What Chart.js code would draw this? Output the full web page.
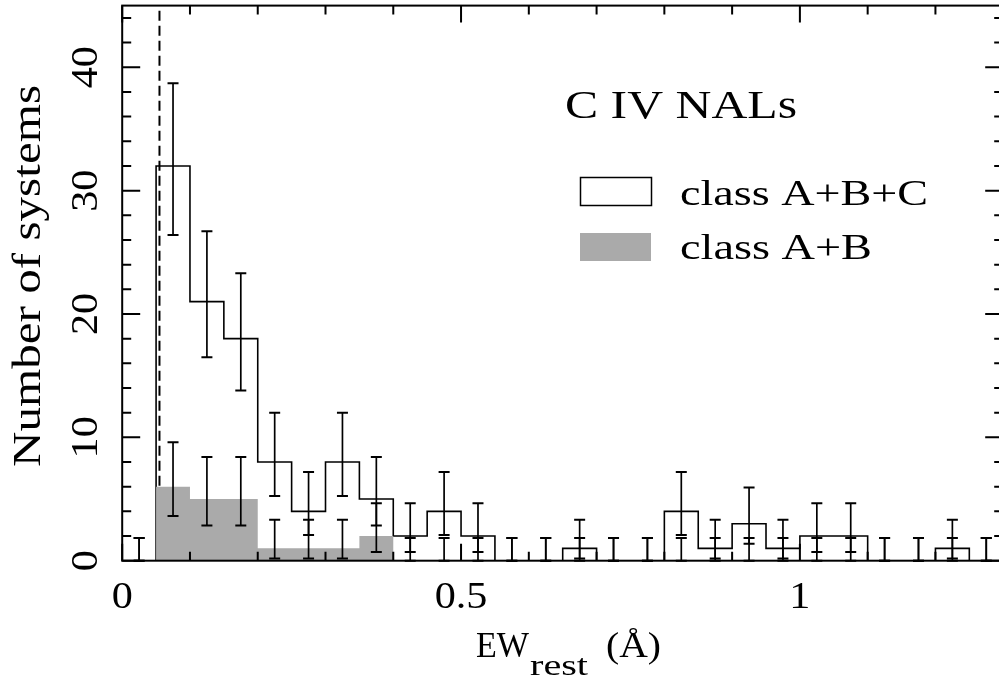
<!DOCTYPE html>
<html>
<head>
<meta charset="utf-8">
<script src="https://cdn.jsdelivr.net/npm/chart.js@4.4.1/dist/chart.umd.min.js"></script>
<style>
  html, body { margin: 0; padding: 0; overflow: hidden; background: #fff; }
  canvas { display: block; }
</style>
</head>
<body>
<canvas id="c" width="1006" height="683"></canvas>
<script>
// Rest-frame equivalent width bins: left edges in Å, each bin 0.05 Å wide
const binLefts = [0.00, 0.05, 0.10, 0.15, 0.20, 0.25, 0.30, 0.35, 0.40, 0.45,
                  0.50, 0.55, 0.60, 0.65, 0.70, 0.75, 0.80, 0.85, 0.90, 0.95,
                  1.00, 1.05, 1.10, 1.15, 1.20, 1.25];
const binWidth = 0.05;

// Number of systems per bin
const countsABC = [0, 32, 21, 18, 8, 4, 8, 5, 2, 4, 2, 0, 0, 1, 0, 0, 4, 1, 3, 1, 2, 2, 0, 0, 1, 0];
const countsAB  = [0, 6, 5, 5, 1, 1, 1, 2, 0, 0, 0, 0, 0, 0, 0, 0, 0, 0, 0, 0, 0, 0, 0, 0, 0, 0];

// 1-sigma Poisson confidence limits for each bin
const errHiABC = [1.84, 38.7, 26.7, 23.3, 12.0, 7.2, 12.0, 8.4, 4.66, 7.2, 4.66, 1.84, 1.84, 3.32, 1.84, 1.84, 7.2, 3.32, 5.94, 3.32, 4.66, 4.66, 1.84, 1.84, 3.32, 1.84];
const errLoABC = [0, 26.4, 16.5, 13.8, 5.24, 2.09, 5.24, 2.85, 0.71, 2.09, 0.71, 0, 0, 0.17, 0, 0, 2.09, 0.17, 1.37, 0.17, 0.71, 0.71, 0, 0, 0.17, 0];
const errHiAB  = [1.84, 9.6, 8.4, 8.4, 3.32, 3.32, 3.32, 4.66, 1.84, 1.84, 1.84, 1.84, 1.84, 1.84, 1.84, 1.84, 1.84, 1.84, 1.84, 1.84, 1.84, 1.84, 1.84, 1.84, 1.84, 1.84];
const errLoAB  = [0, 3.63, 2.85, 2.85, 0.17, 0.17, 0.17, 0.71, 0, 0, 0, 0, 0, 0, 0, 0, 0, 0, 0, 0, 0, 0, 0, 0, 0, 0];

// Detection limit marked by the dashed line (Å)
const ewLimit = 0.055;

// Axis ticks and labels
const xTickValues = [0, 0.5, 1];
const xTickLabels = ['0', '0.5', '1'];
const yTickValues = [0, 10, 20, 30, 40];
const yTickLabels = ['0', '10', '20', '30', '40'];

const panelTitle = 'C IV NALs';
const legendLabels = ['class A+B+C', 'class A+B'];
const yTitle = 'Number of systems';

const FONT = '"Liberation Serif", "Times New Roman", serif';
const GREY = '#aaaaaa';

function histPoints(counts) {
  const pts = binLefts.map((x, i) => ({ x: x, y: counts[i] }));
  pts.push({ x: binLefts[binLefts.length - 1] + binWidth, y: 0 });
  return pts;
}

// Text drawn at a given size and stretched horizontally to a given width
function fitText(ctx, str, x, y, size, width, align, angle) {
  ctx.save();
  ctx.font = size + 'px ' + FONT;
  const w = ctx.measureText(str).width;
  const k = width ? width / w : 1;
  ctx.translate(x, y);
  if (angle) ctx.rotate(angle);
  ctx.scale(k, 1);
  ctx.textAlign = align || 'left';
  ctx.textBaseline = 'alphabetic';
  ctx.fillStyle = '#000';
  ctx.fillText(str, 0, 0);
  ctx.restore();
}

function naturalWidth(ctx, str, size) {
  ctx.save();
  ctx.font = size + 'px ' + FONT;
  const w = ctx.measureText(str).width;
  ctx.restore();
  return w;
}

const overlay = {
  id: 'overlay',
  afterDatasetsDraw(chart) {
    const { ctx, chartArea: a, scales: { x, y } } = chart;
    ctx.save();
    ctx.strokeStyle = '#000';
    ctx.lineCap = 'butt';

    // error bars at bin centres
    const bar = (xc, lo, hi) => {
      const px = x.getPixelForValue(xc);
      const p0 = y.getPixelForValue(lo);
      const p1 = y.getPixelForValue(hi);
      ctx.lineWidth = 1.7;
      ctx.beginPath(); ctx.moveTo(px, p0); ctx.lineTo(px, p1); ctx.stroke();
      ctx.lineWidth = 2;
      ctx.beginPath();
      ctx.moveTo(px - 5.5, p1); ctx.lineTo(px + 5.5, p1);
      ctx.moveTo(px - 5.5, p0); ctx.lineTo(px + 5.5, p0);
      ctx.stroke();
    };
    binLefts.forEach((l, i) => {
      const c = l + binWidth / 2;
      bar(c, errLoABC[i], errHiABC[i]);
      bar(c, errLoAB[i], errHiAB[i]);
    });

    // frame
    ctx.lineWidth = 2;
    ctx.strokeRect(a.left, a.top, a.right - a.left, a.bottom - a.top);

    // inward ticks on all four sides
    ctx.lineWidth = 2;
    ctx.beginPath();
    for (let i = 0; i <= 13; i++) {
      const v = i / 10;
      const px = x.getPixelForValue(v);
      const len = (i % 5 === 0) ? 17 : 9;
      ctx.moveTo(px, a.bottom); ctx.lineTo(px, a.bottom - len);
      ctx.moveTo(px, a.top); ctx.lineTo(px, a.top + len);
    }
    for (let v = 0; v <= 45; v += 2) {
      const py = y.getPixelForValue(v);
      const len = (v % 10 === 0) ? 18 : 9;
      ctx.moveTo(a.left, py); ctx.lineTo(a.left + len, py);
      ctx.moveTo(a.right, py); ctx.lineTo(a.right - len, py);
    }
    ctx.stroke();

    // legend keys
    ctx.lineWidth = 1.5;
    ctx.strokeRect(580.5, 177.5, 71, 28);
    ctx.fillStyle = GREY;
    ctx.fillRect(580, 233, 71, 28);
    ctx.restore();

    // tick labels
    xTickValues.forEach((v, i) => {
      const s = xTickLabels[i];
      fitText(ctx, s, x.getPixelForValue(v), 608, 37, naturalWidth(ctx, s, 37) * 1.14, 'center');
    });
    yTickValues.forEach((v, i) => {
      const s = yTickLabels[i];
      fitText(ctx, s, 97, y.getPixelForValue(v), 37, naturalWidth(ctx, s, 37) * 1.14, 'center', -Math.PI / 2);
    });

    // axis titles
    fitText(ctx, yTitle, 40, 276, 40, 382, 'center', -Math.PI / 2);
    fitText(ctx, 'EW', 476, 657, 36, 53, 'left');
    fitText(ctx, 'rest', 530, 675, 30, 58, 'left');
    fitText(ctx, '(Å)', 606, 657, 36, 55, 'left');

    // panel title and legend text
    fitText(ctx, panelTitle, 565, 118, 40, 232, 'left');
    fitText(ctx, legendLabels[0], 680, 205, 35, 248, 'left');
    fitText(ctx, legendLabels[1], 680, 259, 35, 192, 'left');
  }
};

new Chart(document.getElementById('c'), {
  type: 'scatter',
  data: {
    datasets: [
      {
        label: legendLabels[1],
        data: histPoints(countsAB),
        showLine: true,
        stepped: 'before',
        fill: 'origin',
        backgroundColor: GREY,
        borderColor: GREY,
        borderWidth: 0,
        pointRadius: 0
      },
      {
        label: legendLabels[0],
        data: histPoints(countsABC),
        showLine: true,
        stepped: 'before',
        fill: false,
        borderColor: '#000',
        borderWidth: 1.6,
        pointRadius: 0
      },
      {
        label: 'limit',
        data: [{ x: ewLimit, y: 0 }, { x: ewLimit, y: 45 }],
        showLine: true,
        fill: false,
        borderColor: '#000',
        borderWidth: 2,
        borderDash: [10, 5],
        pointRadius: 0
      }
    ]
  },
  options: {
    responsive: false,
    animation: false,
    events: [],
    layout: { padding: { left: 122.2, right: 2.8, top: 5.6, bottom: 122.3 } },
    scales: {
      x: { type: 'linear', min: 0, max: 1.3, display: false },
      y: { type: 'linear', min: 0, max: 45, display: false }
    },
    plugins: { legend: { display: false }, tooltip: { enabled: false } }
  },
  plugins: [overlay]
});
</script>
</body>
</html>
